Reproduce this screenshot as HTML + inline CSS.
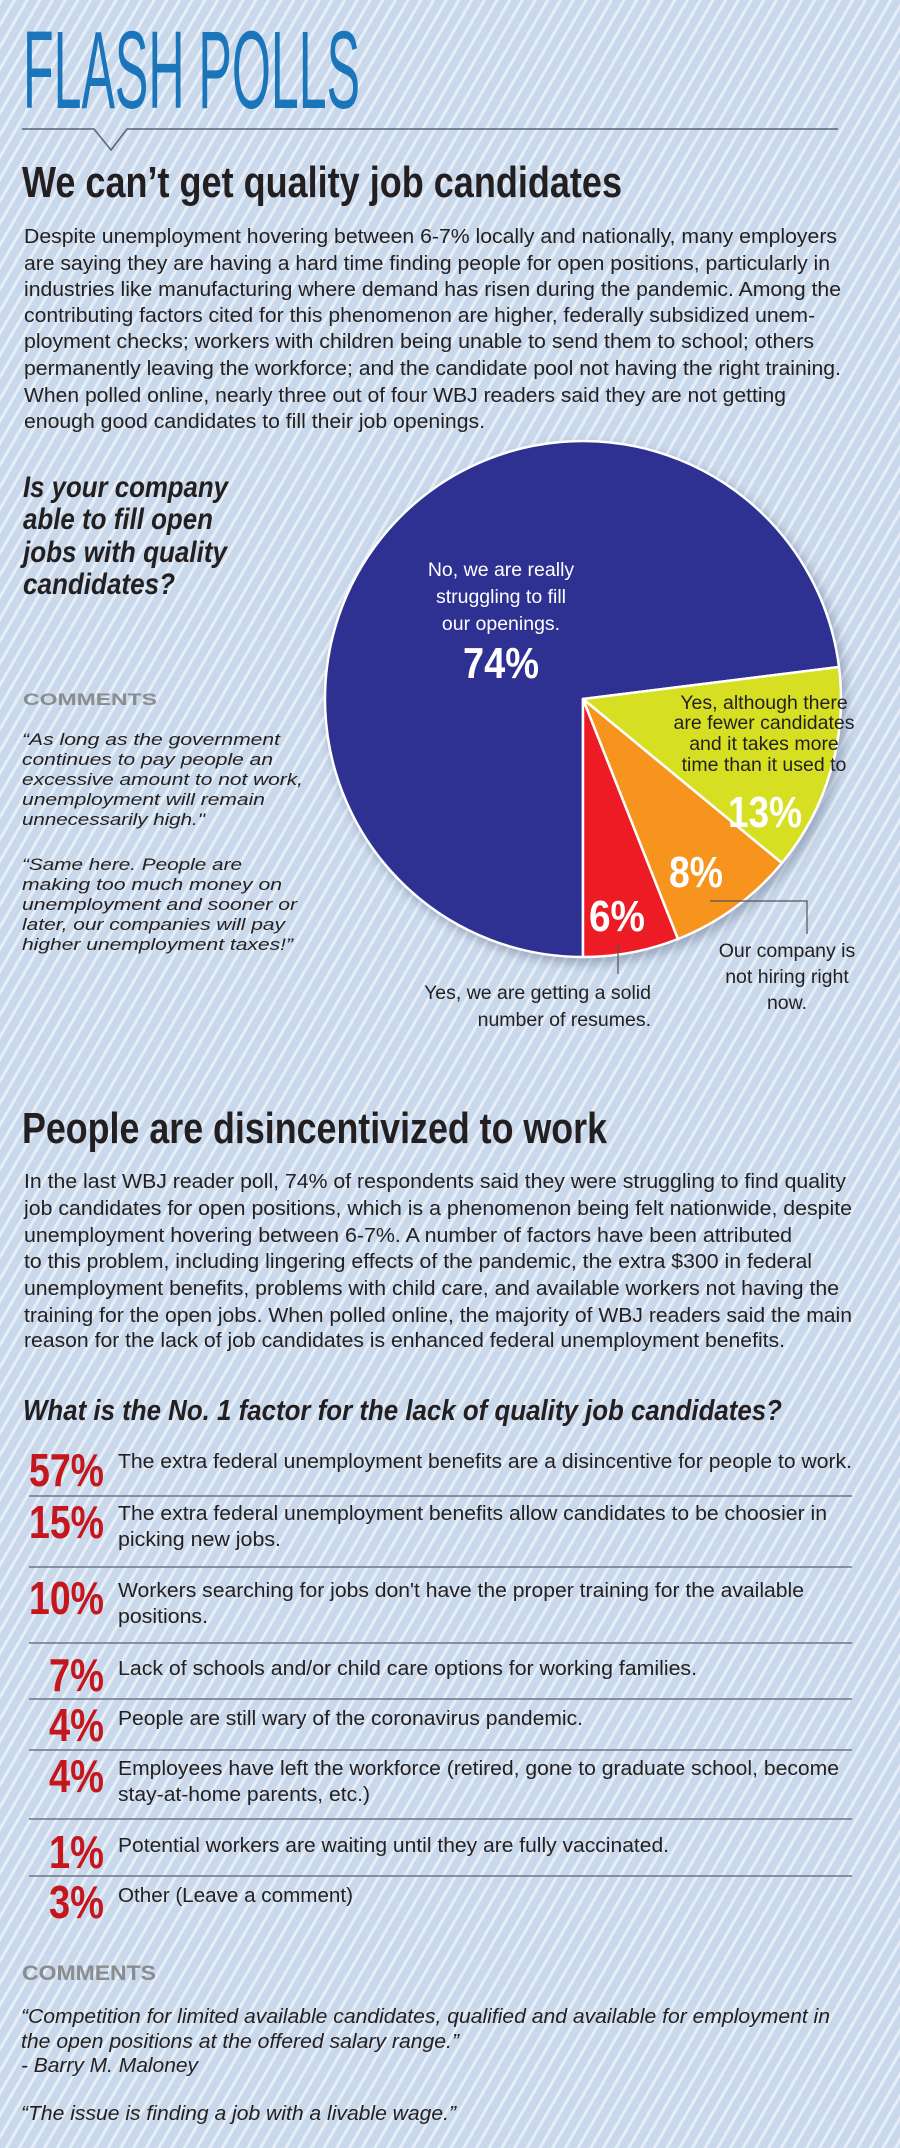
<!DOCTYPE html>
<html><head><meta charset="utf-8"><style>
html,body{margin:0;padding:0;width:900px;height:2148px;overflow:hidden;background:#cddbec}
svg{display:block}
text{font-family:"Liberation Sans",Arial,sans-serif}
.b{fill:#231f20;font-size:20px}
.it{font-style:italic}
.pct{fill:#c4161c;font-weight:bold;font-size:46px}
.pie{font-size:19.5px}
</style></head><body>
<svg width="900" height="2148" viewBox="0 0 900 2148" xmlns="http://www.w3.org/2000/svg">
<defs>
<pattern id="st" width="11" height="11" patternUnits="userSpaceOnUse" patternTransform="rotate(30)">
<rect width="11" height="11" fill="#c9d8eb"/>
<rect x="0" y="0" width="3" height="11" fill="#e6eef7"/>
</pattern>
<filter id="sh" x="-10%" y="-10%" width="130%" height="130%"><feGaussianBlur stdDeviation="5"/></filter>
</defs>
<rect width="900" height="2148" fill="url(#st)"/>

<text x="23" y="108" font-size="110" fill="#1b75bb" textLength="337" lengthAdjust="spacingAndGlyphs">FLASH POLLS</text>
<path d="M22 129 H94 L111 150 L127 129 H838" fill="none" stroke="#5a6472" stroke-width="1.5"/>

<text x="22" y="197" font-size="44" font-weight="bold" fill="#231f20" textLength="600" lengthAdjust="spacingAndGlyphs">We can’t get quality job candidates</text>
<g class="b">
<text x="24" y="243" textLength="813" lengthAdjust="spacingAndGlyphs">Despite unemployment hovering between 6-7% locally and nationally, many employers</text>
<text x="24" y="270" textLength="806" lengthAdjust="spacingAndGlyphs">are saying they are having a hard time finding people for open positions, particularly in</text>
<text x="24" y="296" textLength="817" lengthAdjust="spacingAndGlyphs">industries like manufacturing where demand has risen during the pandemic. Among the</text>
<text x="24" y="322" textLength="791" lengthAdjust="spacingAndGlyphs">contributing factors cited for this phenomenon are higher, federally subsidized unem-</text>
<text x="24" y="348" textLength="790" lengthAdjust="spacingAndGlyphs">ployment checks; workers with children being unable to send them to school; others</text>
<text x="24" y="375" textLength="817" lengthAdjust="spacingAndGlyphs">permanently leaving the workforce; and the candidate pool not having the right training.</text>
<text x="24" y="402" textLength="762" lengthAdjust="spacingAndGlyphs">When polled online, nearly three out of four WBJ readers said they are not getting</text>
<text x="24" y="428" textLength="461" lengthAdjust="spacingAndGlyphs">enough good candidates to fill their job openings.</text>
</g>

<g font-size="30" font-weight="bold" font-style="italic" fill="#231f20">
<text x="23" y="497" textLength="205" lengthAdjust="spacingAndGlyphs">Is your company</text>
<text x="23" y="529" textLength="190" lengthAdjust="spacingAndGlyphs">able to fill open</text>
<text x="23" y="562" textLength="204" lengthAdjust="spacingAndGlyphs">jobs with quality</text>
<text x="23" y="594" textLength="152" lengthAdjust="spacingAndGlyphs">candidates?</text>
</g>
<text x="23" y="705" font-size="17" font-weight="bold" fill="#8a8c8f" textLength="134" lengthAdjust="spacingAndGlyphs">COMMENTS</text>
<g font-size="17" font-style="italic" fill="#231f20">
<text x="22" y="745" textLength="258" lengthAdjust="spacingAndGlyphs">“As long as the government</text>
<text x="22" y="765" textLength="251" lengthAdjust="spacingAndGlyphs">continues to pay people an</text>
<text x="22" y="785" textLength="281" lengthAdjust="spacingAndGlyphs">excessive amount to not work,</text>
<text x="22" y="805" textLength="243" lengthAdjust="spacingAndGlyphs">unemployment will remain</text>
<text x="22" y="825" textLength="183" lengthAdjust="spacingAndGlyphs">unnecessarily high."</text>
<text x="22" y="870" textLength="220" lengthAdjust="spacingAndGlyphs">“Same here. People are</text>
<text x="22" y="890" textLength="260" lengthAdjust="spacingAndGlyphs">making too much money on</text>
<text x="22" y="910" textLength="275" lengthAdjust="spacingAndGlyphs">unemployment and sooner or</text>
<text x="22" y="930" textLength="263" lengthAdjust="spacingAndGlyphs">later, our companies will pay</text>
<text x="22" y="950" textLength="271" lengthAdjust="spacingAndGlyphs">higher unemployment taxes!”</text>
</g>

<!-- pie -->
<circle cx="587" cy="704" r="260" fill="#6d7a96" opacity="0.5" filter="url(#sh)"/>
<g stroke="#fff" stroke-width="2.5" stroke-linejoin="round">
<path d="M583 699 L839 667 A258 258 0 1 0 583 957 Z" fill="#2e3192"/>
<path d="M583 699 L583 957 A258 258 0 0 0 678 939 Z" fill="#ed1c24"/>
<path d="M583 699 L678 939 A258 258 0 0 0 782 863 Z" fill="#f7941d"/>
<path d="M583 699 L782 863 A258 258 0 0 0 839 667 Z" fill="#d7df23"/>
</g>
<g class="pie" fill="#fff" text-anchor="middle">
<text x="501" y="576">No, we are really</text>
<text x="501" y="603">struggling to fill</text>
<text x="501" y="630">our openings.</text>
</g>
<g font-weight="bold" fill="#fff" text-anchor="middle" font-size="44">
<text x="501" y="678" textLength="76" lengthAdjust="spacingAndGlyphs">74%</text>
<text x="765" y="827" textLength="74" lengthAdjust="spacingAndGlyphs">13%</text>
<text x="696" y="887" textLength="54" lengthAdjust="spacingAndGlyphs">8%</text>
<text x="617" y="931" textLength="56" lengthAdjust="spacingAndGlyphs">6%</text>
</g>
<g class="pie" fill="#231f20" text-anchor="middle">
<text x="764" y="709">Yes, although there</text>
<text x="764" y="729">are fewer candidates</text>
<text x="764" y="750">and it takes more</text>
<text x="764" y="771">time than it used to</text>
<text x="787" y="957">Our company is</text>
<text x="787" y="983">not hiring right</text>
<text x="787" y="1009">now.</text>
<text x="651" y="999" text-anchor="end">Yes, we are getting a solid</text>
<text x="651" y="1026" text-anchor="end">number of resumes.</text>
</g>
<path d="M710 901 H807 V934 M618 944 V974" fill="none" stroke="#555" stroke-width="1.2"/>

<!-- section 2 -->
<text x="22" y="1143" font-size="44" font-weight="bold" fill="#231f20" textLength="585" lengthAdjust="spacingAndGlyphs">People are disincentivized to work</text>
<g class="b">
<text x="24" y="1188" textLength="822" lengthAdjust="spacingAndGlyphs">In the last WBJ reader poll, 74% of respondents said they were struggling to find quality</text>
<text x="24" y="1215" textLength="828" lengthAdjust="spacingAndGlyphs">job candidates for open positions, which is a phenomenon being felt nationwide, despite</text>
<text x="24" y="1242" textLength="768" lengthAdjust="spacingAndGlyphs">unemployment hovering between 6-7%. A number of factors have been attributed</text>
<text x="24" y="1268" textLength="788" lengthAdjust="spacingAndGlyphs">to this problem, including lingering effects of the pandemic, the extra $300 in federal</text>
<text x="24" y="1295" textLength="815" lengthAdjust="spacingAndGlyphs">unemployment benefits, problems with child care, and available workers not having the</text>
<text x="24" y="1322" textLength="828" lengthAdjust="spacingAndGlyphs">training for the open jobs. When polled online, the majority of WBJ readers said the main</text>
<text x="24" y="1347" textLength="761" lengthAdjust="spacingAndGlyphs">reason for the lack of job candidates is enhanced federal unemployment benefits.</text>
</g>
<text x="23" y="1420" font-size="29" font-weight="bold" font-style="italic" fill="#231f20" textLength="759" lengthAdjust="spacingAndGlyphs">What is the No. 1 factor for the lack of quality job candidates?</text>

<g class="pct">
<text x="29" y="1486" textLength="75" lengthAdjust="spacingAndGlyphs">57%</text>
<text x="29" y="1538" textLength="75" lengthAdjust="spacingAndGlyphs">15%</text>
<text x="29" y="1614" textLength="75" lengthAdjust="spacingAndGlyphs">10%</text>
<text x="49" y="1691" textLength="55" lengthAdjust="spacingAndGlyphs">7%</text>
<text x="49" y="1741" textLength="55" lengthAdjust="spacingAndGlyphs">4%</text>
<text x="49" y="1792" textLength="55" lengthAdjust="spacingAndGlyphs">4%</text>
<text x="49" y="1868" textLength="55" lengthAdjust="spacingAndGlyphs">1%</text>
<text x="49" y="1918" textLength="55" lengthAdjust="spacingAndGlyphs">3%</text>
</g>
<g class="b">
<text x="118" y="1468" textLength="734" lengthAdjust="spacingAndGlyphs">The extra federal unemployment benefits are a disincentive for people to work.</text>
<text x="118" y="1520" textLength="709" lengthAdjust="spacingAndGlyphs">The extra federal unemployment benefits allow candidates to be choosier in</text>
<text x="118" y="1546" textLength="163" lengthAdjust="spacingAndGlyphs">picking new jobs.</text>
<text x="118" y="1597" textLength="686" lengthAdjust="spacingAndGlyphs">Workers searching for jobs don't have the proper training for the available</text>
<text x="118" y="1623" textLength="90" lengthAdjust="spacingAndGlyphs">positions.</text>
<text x="118" y="1675" textLength="579" lengthAdjust="spacingAndGlyphs">Lack of schools and/or child care options for working families.</text>
<text x="118" y="1725" textLength="465" lengthAdjust="spacingAndGlyphs">People are still wary of the coronavirus pandemic.</text>
<text x="118" y="1775" textLength="721" lengthAdjust="spacingAndGlyphs">Employees have left the workforce (retired, gone to graduate school, become</text>
<text x="118" y="1801" textLength="252" lengthAdjust="spacingAndGlyphs">stay-at-home parents, etc.)</text>
<text x="118" y="1852" textLength="551" lengthAdjust="spacingAndGlyphs">Potential workers are waiting until they are fully vaccinated.</text>
<text x="118" y="1902" textLength="235" lengthAdjust="spacingAndGlyphs">Other (Leave a comment)</text>
</g>
<g stroke="#6d7683" stroke-width="1.5">
<line x1="29" y1="1496" x2="852" y2="1496"/>
<line x1="29" y1="1567" x2="852" y2="1567"/>
<line x1="29" y1="1643" x2="852" y2="1643"/>
<line x1="29" y1="1699" x2="852" y2="1699"/>
<line x1="29" y1="1750" x2="852" y2="1750"/>
<line x1="29" y1="1819" x2="852" y2="1819"/>
<line x1="29" y1="1876" x2="852" y2="1876"/>
</g>
<text x="22" y="1980" font-size="21" font-weight="bold" fill="#8a8c8f" textLength="134" lengthAdjust="spacingAndGlyphs">COMMENTS</text>
<g class="b it">
<text x="21" y="2023" textLength="809" lengthAdjust="spacingAndGlyphs">“Competition for limited available candidates, qualified and available for employment in</text>
<text x="21" y="2048" textLength="438" lengthAdjust="spacingAndGlyphs">the open positions at the offered salary range.”</text>
<text x="21" y="2072" textLength="177" lengthAdjust="spacingAndGlyphs">- Barry M. Maloney</text>
<text x="21" y="2120" textLength="435" lengthAdjust="spacingAndGlyphs">“The issue is finding a job with a livable wage.”</text>
</g>
</svg>
</body></html>
